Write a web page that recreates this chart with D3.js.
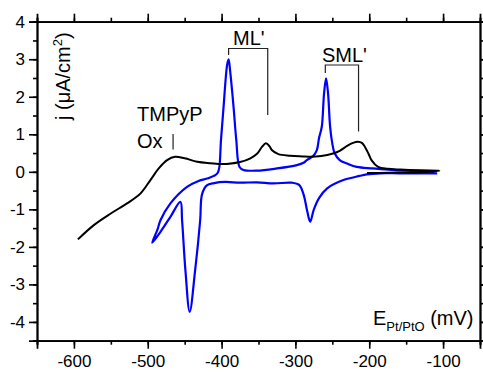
<!DOCTYPE html>
<html><head><meta charset="utf-8">
<script src="https://cdn.jsdelivr.net/npm/d3@7"></script>
<style>body{margin:0;background:#fff}svg{display:block}text{font-family:"Liberation Sans",Arial,sans-serif}</style>
</head><body>
<svg id="c" width="483" height="372"></svg>
<script>
// ---- data ----
const blackE = [-594.6,-573,-550,-528,-510,-496.4,-485.1,-473.8,-463,-450,-433,-415,-402,-393,-375,-361,-352,-345,-340,-335,-332,-323,-307,-290,-280,-265,-249,-240,-230,-222,-215,-210,-206,-201,-197,-188,-175,-158,-130,-105,-130,-160,-185,-203];
const blackJ = [-1.80,-1.42,-1.11,-0.84,-0.58,-0.22,0.09,0.31,0.40,0.36,0.27,0.23,0.21,0.21,0.26,0.36,0.48,0.67,0.76,0.68,0.58,0.47,0.43,0.41,0.40,0.42,0.49,0.56,0.69,0.77,0.80,0.77,0.67,0.48,0.31,0.13,0.08,0.06,0.04,0.03,-0.01,-0.02,-0.03,-0.03];
const blueE = [-108,-130,-160,-185,-203.5,-213,-235,-257,-268,-275,-280,-284,-289,-295,-305,-330,-352,-375,-395,-410,-420,-426.5,-429,-435.8,-443.2,-449,-453.5,-455.8,-469.3,-482.8,-494,-487,-482.8,-469.3,-446.8,-432,-419.7,-408.5,-405,-403,-400.8,-397.3,-392.5,-390.5,-388.5,-383.8,-380.1,-375.7,-370.3,-352,-325,-298,-289,-284.6,-276,-271,-268,-264.3,-261.2,-258.5,-255.8,-253,-250,-247,-240,-230,-217,-195,-170,-140,-112];
const blueJ = [-0.04,-0.04,-0.04,-0.04,-0.07,-0.11,-0.22,-0.44,-0.70,-1.00,-1.33,-1.05,-0.60,-0.35,-0.29,-0.31,-0.28,-0.29,-0.27,-0.30,-0.36,-0.60,-1.29,-2.62,-3.73,-2.62,-1.29,-0.80,-1.20,-1.60,-1.89,-1.55,-1.29,-0.84,-0.40,-0.25,-0.18,-0.09,-0.02,0.13,0.85,1.73,2.85,3.00,2.70,1.73,0.85,0.13,0.05,0.03,0.09,0.18,0.24,0.31,0.42,0.58,0.90,1.20,2.09,2.49,2.09,1.20,0.75,0.50,0.31,0.22,0.13,0.09,0.05,0.02,0.00];
const xTicks = [-600,-500,-400,-300,-200,-100];
const yTicks = [-4,-3,-2,-1,0,1,2,3,4];

// ---- scales ----
const svg = d3.select("#c");
const L = 37, R = 480, T = 21.7, B = 340.7;
const x = d3.scaleLinear().domain([-650,-50]).range([L,R]);
const y = d3.scaleLinear().domain([-4.5,4]).range([B,T]);

const fontTick = "17px";
// minor ticks
const xMinor = d3.range(-650,-49,50);
const yMinor = d3.range(-4.5,4.01,0.5);
function axisStyle(g){ g.selectAll("path,line").attr("stroke","#000").attr("stroke-width",1.6); g.select(".domain").attr("stroke-width",1.8); }

svg.append("g").attr("transform",`translate(0,${B})`).call(d3.axisBottom(x).tickValues(xMinor).tickSize(4).tickFormat("")).call(axisStyle);
svg.append("g").attr("transform",`translate(0,${B})`).call(d3.axisBottom(x).tickValues(xTicks).tickSize(8).tickPadding(6).tickFormat(d=>String(d))).call(axisStyle)
  .selectAll("text").attr("font-size",fontTick).attr("fill","#000").attr("font-family","Liberation Sans, Arial");
svg.append("g").attr("transform",`translate(0,${T})`).call(d3.axisTop(x).tickValues(xMinor).tickSize(4).tickFormat("")).call(axisStyle);
svg.append("g").attr("transform",`translate(0,${T})`).call(d3.axisTop(x).tickValues(xTicks).tickSize(8).tickFormat("")).call(axisStyle);
svg.append("g").attr("transform",`translate(${L},0)`).call(d3.axisLeft(y).tickValues(yMinor).tickSize(4).tickFormat("")).call(axisStyle);
svg.append("g").attr("transform",`translate(${L},0)`).call(d3.axisLeft(y).tickValues(yTicks).tickSize(8).tickPadding(4).tickFormat(d=>String(d))).call(axisStyle)
  .selectAll("text").attr("font-size",fontTick).attr("fill","#000").attr("font-family","Liberation Sans, Arial");
svg.append("g").attr("transform",`translate(${R},0)`).call(d3.axisRight(y).tickValues(yMinor).tickSize(4).tickFormat("")).call(axisStyle);
svg.append("g").attr("transform",`translate(${R},0)`).call(d3.axisRight(y).tickValues(yTicks).tickSize(8).tickFormat("")).call(axisStyle);

// ---- curves ----
const line = d3.line().x(d=>x(d[0])).y(d=>y(d[1])).curve(d3.curveCatmullRom.alpha(0.5));
svg.append("path").datum(blueE.map((e,i)=>[e,blueJ[i]])).attr("d",line).attr("fill","none").attr("stroke","#0000ff").attr("stroke-width",2.2).attr("stroke-linejoin","round");
svg.append("path").datum(blackE.map((e,i)=>[e,blackJ[i]])).attr("d",line).attr("fill","none").attr("stroke","#000").attr("stroke-width",2).attr("stroke-linejoin","round");

// ---- annotations ----
const ann = svg.append("g").attr("font-size","20px").attr("fill","#000");
ann.append("text").attr("x",137).attr("y",121).text("TMPyP");
ann.append("text").attr("x",137).attr("y",147.5).text("Ox");
ann.append("text").attr("x",233).attr("y",45).text("ML'");
ann.append("text").attr("x",322).attr("y",62).text("SML'");
const br = svg.append("g").attr("stroke","#222").attr("stroke-width",1.2).attr("fill","none");
br.append("line").attr("x1",x(-465.7)).attr("x2",x(-465.7)).attr("y1",134).attr("y2",149.5);
br.append("path").attr("d",`M${x(-390.5)},55 V48.5 H${x(-337.5)} V115`);
br.append("path").attr("d",`M${x(-259.5)},73 V65 H${x(-214.5)} V131.5`);

// ---- axis titles ----
const yl = svg.append("text").attr("transform","translate(70,120) rotate(-90)").attr("font-size","20px");
yl.append("tspan").text("j (\u03BCA/cm");
yl.append("tspan").attr("font-size","13px").attr("dy","-8").text("2");
yl.append("tspan").attr("dy","8").text(")");
const xl = svg.append("text").attr("x",373).attr("y",325).attr("font-size","20px");
xl.append("tspan").text("E");
xl.append("tspan").attr("font-size","13px").attr("dy","6").text("Pt/PtO");
xl.append("tspan").attr("dy","-6").text(" (mV)");
</script>
</body></html>
